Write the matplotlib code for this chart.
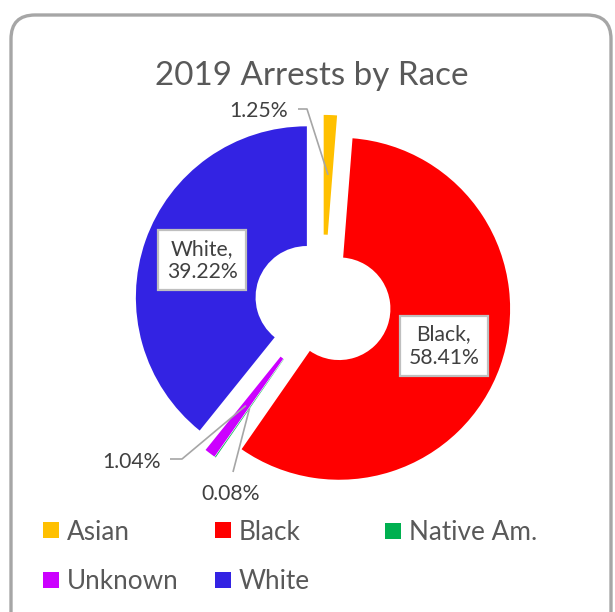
import numpy as np
import matplotlib
matplotlib.use("Agg")
import matplotlib.pyplot as plt
from matplotlib.patches import FancyBboxPatch, Patch

# ---------------- data ----------------
categories = ["Asian", "Black", "Native Am.", "Unknown", "White"]
values = [1.25, 58.41, 0.08, 1.04, 39.22]
colors = ["#FFC000", "#FF0000", "#00B050", "#CC00FF", "#3323E3"]
title = "2019 Arrests by Race"

# ---------------- layout ----------------
W, H = 615, 612
CX, CY, RPX = 323, 303, 171     # pie centre / radius in pixels
HOLE = 0.30                      # inner radius fraction
EXPLODE = 0.10
FONT = ["Lato", "DejaVu Sans"]
plt.rcParams["font.family"] = FONT

fig = plt.figure(figsize=(W / 100, H / 100), dpi=100)
renderer = fig.canvas.get_renderer()


def fit_size(text, target_px, base=20):
    t = fig.text(0, 0, text, fontsize=base)
    w = t.get_window_extent(renderer).width
    t.remove()
    return base * target_px / w


# background with rounded frame (pixel coordinates)
bg = fig.add_axes([0, 0, 1, 1])
bg.set_xlim(0, W)
bg.set_ylim(H, 0)
bg.axis("off")
bg.add_patch(FancyBboxPatch((11, 15), 600, 640,
                            boxstyle="round,pad=0,rounding_size=24",
                            fc="white", ec="#A6A6A6", lw=2.4))

# pie axes: 1 data unit == RPX pixels
ax = fig.add_axes([0, 0, 1, 1])
ax.patch.set_alpha(0)
wedges, _ = ax.pie(values, colors=colors, startangle=90, counterclock=False,
                   explode=[EXPLODE] * len(values), radius=1,
                   wedgeprops=dict(width=1 - HOLE, linewidth=0))
ax.set_xlim(-CX / RPX, (W - CX) / RPX)
ax.set_ylim((CY - H) / RPX, CY / RPX)
ax.set_aspect("auto")
ax.axis("off")


def px(x, y):
    return ((x - CX) / RPX, (CY - y) / RPX)


def mid_point(w, rr=(1 + HOLE) / 2):
    a = np.deg2rad((w.theta1 + w.theta2) / 2)
    cx, cy = w.center
    return cx + rr * np.cos(a), cy + rr * np.sin(a)


lab_fs = fit_size("58.41%", 71)
label_color = "#404040"
line_color = "#A6A6A6"

# boxed labels for large slices
for i in (1, 4):
    x, y = mid_point(wedges[i])
    ax.text(x, y, f"{categories[i]},\n{values[i]:.2f}%", ha="center", va="center",
            fontsize=lab_fs, color=label_color, linespacing=1.2,
            bbox=dict(boxstyle="square,pad=0.4", fc="white", ec="#BFBFBF", lw=1.6))

# small labels with leader lines  (text pos px, leader path px)
small = {
    0: ((259, 117), [(298, 109), (307, 109)]),
    3: ((132, 468), [(170, 459), (182, 459)]),
    2: ((231, 500), [(233, 472)]),
}
for i, ((tx, ty), path) in small.items():
    x, y = px(tx, ty)
    ax.text(x, y, f"{values[i]:.2f}%", ha="center", va="baseline",
            fontsize=lab_fs, color=label_color)
    pts = [px(a, b) for a, b in path] + [mid_point(wedges[i])]
    xs, ys = zip(*pts)
    ax.plot(xs, ys, color=line_color, lw=1.2, solid_capstyle="butt")

# title
title_fs = fit_size(title, 314)
fig.text(312 / W, 1 - 85 / H, title, ha="center", va="baseline",
         fontsize=title_fs, color="#595959")

# legend (three columns, row-major like the original)
leg_fs = fit_size("Asian", 63)
fs_px = leg_fs * 100 / 72
sq = 16
hl = sq / fs_px
hh = (sq / fs_px - 0.245) / 0.65
handles = [Patch(facecolor=c, edgecolor="none") for c in colors]
cols = [([0, 3], 43), ([1, 4], 215), ([2], 385)]
for idx, x0 in cols:
    yc = 557 if len(idx) == 2 else 533
    fig.legend([handles[k] for k in idx], [categories[k] for k in idx],
               loc="center left", bbox_to_anchor=(x0 / W, 1 - yc / H),
               bbox_transform=fig.transFigure, frameon=False,
               fontsize=leg_fs, labelcolor="#595959",
               handlelength=hl, handleheight=hh, handletextpad=8 / fs_px,
               labelspacing=0.94, borderpad=0, borderaxespad=0)

fig.savefig("out.png", dpi=100)
